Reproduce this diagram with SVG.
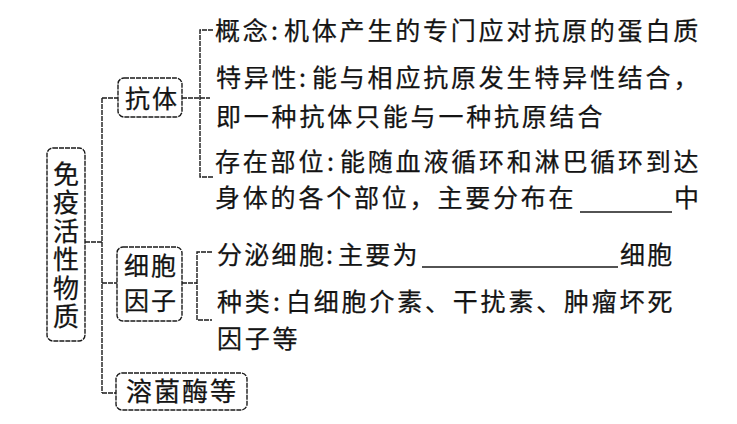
<svg xmlns="http://www.w3.org/2000/svg" width="737" height="424" viewBox="0 0 737 424">
<style>
  text { font-family: "Noto Sans CJK SC", "Noto Sans", sans-serif; fill: #141414; stroke: #141414; stroke-width: 0.25; }
  .t { font-size: 25px; letter-spacing: 2.8px; }
  .b { font-size: 26px; letter-spacing: 2px; }
  .v { font-size: 26px; letter-spacing: 2.5px; writing-mode: vertical-rl; }
  .box { fill: #fff; stroke: #1a1a1a; stroke-width: 1.4; stroke-dasharray: 5 1; }
  .ln { fill: none; stroke: #1a1a1a; stroke-width: 1.4; stroke-dasharray: 5 1; }
  .ul { fill: none; stroke: #1a1a1a; stroke-width: 1.3; }
</style>
<rect width="737" height="424" fill="#fff"/>
<g id="connectors">
  <path class="ln" d="M85 242 H102"/>
  <path class="ln" d="M102 98 V393"/>
  <path class="ln" d="M102 98 H118"/>
  <path class="ln" d="M182 98 H210"/>
  <path class="ln" d="M213 30 H200 V177 H213"/>
  <path class="ln" d="M102 283 H117"/>
  <path class="ln" d="M182 283 H197"/>
  <path class="ln" d="M212 252 H197 V320 H212"/>
  <path class="ln" d="M102 393 H116"/>
</g>
<g id="root">
  <rect class="box" x="47" y="148" width="38" height="193" rx="6"/>
  <text class="v" x="66" y="161">免疫活性物质</text>
</g>
<g id="antibody">
  <rect class="box" x="118" y="78" width="64" height="39" rx="6"/>
  <text class="t" x="125" y="108" style="letter-spacing:2px">抗体</text>
</g>
<g id="antibody-items">
  <text class="t" y="40"><tspan x="215">概念</tspan><tspan x="271">:</tspan><tspan x="284">机体产生的专门应对抗原的蛋白质</tspan></text>
  <text class="t" y="87"><tspan x="216">特异性</tspan><tspan x="299">:</tspan><tspan x="312">能与相应抗原发生特异性结合，</tspan></text>
  <text class="t" x="216" y="126">即一种抗体只能与一种抗原结合</text>
  <text class="t" y="171"><tspan x="215">存在部位</tspan><tspan x="327">:</tspan><tspan x="340">能随血液循环和淋巴循环到达</tspan></text>
  <text class="t" y="207"><tspan x="215">身体的各个部位，主要分布在</tspan><tspan x="674">中</tspan></text>
  <path class="ul" d="M580 212 H672"/>
</g>
<g id="cytokine">
  <rect class="box" x="117" y="247" width="65" height="74" rx="6"/>
  <text class="t" x="124" y="275" style="letter-spacing:2px">细胞</text>
  <text class="t" x="124" y="310" style="letter-spacing:2px">因子</text>
</g>
<g id="cytokine-items">
  <text class="t" y="264" style="letter-spacing:2.3px"><tspan x="217">分泌细胞</tspan><tspan x="326">:</tspan><tspan x="338">主要为</tspan><tspan x="620">细胞</tspan></text>
  <path class="ul" d="M422 267 H618"/>
  <text class="t" y="311"><tspan x="217">种类</tspan><tspan x="273">:</tspan><tspan x="286">白细胞介素、干扰素、肿瘤坏死</tspan></text>
  <text class="t" x="217" y="348">因子等</text>
</g>
<g id="lysozyme">
  <rect class="box" x="116" y="373" width="131" height="37" rx="6"/>
  <text class="b" x="126" y="401">溶菌酶等</text>
</g>
</svg>
